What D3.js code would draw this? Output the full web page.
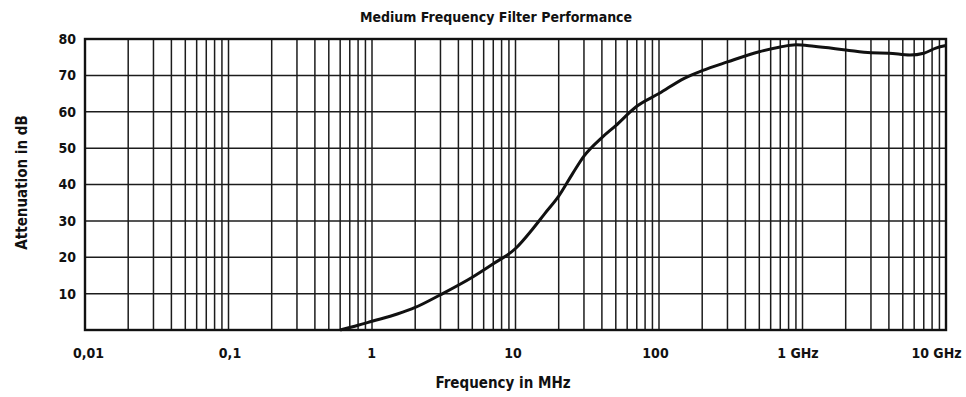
<!DOCTYPE html>
<html>
<head>
<meta charset="utf-8">
<script src="https://cdn.jsdelivr.net/npm/d3@7"></script>
<style>
  body { margin: 0; background: #fff; }
  text { font-family: "Liberation Sans Narrow", "Arial Narrow", "DejaVu Sans Condensed", sans-serif; font-weight: bold; fill: #111; }
</style>
</head>
<body>
<div id="graph-area"></div>
<script>
// frequency in MHz and attenuation in dB
const FREQ = [0.6, 0.8, 1, 1.5, 2, 3, 5, 7, 10, 13, 16, 20, 25, 30, 40, 50, 70, 100, 150, 200, 300, 500, 700, 900, 1200, 2000, 3000, 4000, 5600, 7000, 8500, 10000]
const ATT = [0, 1.3, 2.4, 4.4, 6.2, 9.7, 14.5, 18.2, 22.4, 27.5, 32.0, 36.8, 43.0, 47.8, 52.9, 56.2, 61.5, 65.0, 69.2, 71.3, 73.7, 76.5, 77.8, 78.4, 78.0, 77.0, 76.2, 76.1, 75.6, 76.1, 77.5, 78.2]
const X_DOMAIN = [0.01, 10000]
const Y_DOMAIN = [0, 80]
const X_TICKS = [0.01, 0.1, 1, 10, 100, 1000, 10000]
const X_LABELS = ['0,01', '0,1', '1', '10', '100', '1 GHz', '10 GHz']
const Y_TICKS = [10, 20, 30, 40, 50, 60, 70, 80]

var margin = { top: 39, right: 20, bottom: 67, left: 85 }
var width = 966 - margin.left - margin.right
var height = 397 - margin.top - margin.bottom

var svg = d3.select('#graph-area')
  .append('svg')
  .attr('width', 966)
  .attr('height', 397)

var container = svg.append('g')
  .attr('transform', 'translate(' + margin.left + ',' + margin.top + ')')

var xScale = d3.scaleLog().domain(X_DOMAIN).range([0, width])
var yScale = d3.scaleLinear().domain(Y_DOMAIN).range([height, 0])

// full log grid: 1..9 in every decade
var minor = []
for (let d = -2; d < 4; d++) {
  for (let m = 2; m <= 9; m++) minor.push(m * Math.pow(10, d))
}
var vlines = minor.concat(X_TICKS)

container.append('g')
  .selectAll('line')
  .data(vlines)
  .enter()
  .append('line')
  .attr('x1', d => xScale(d))
  .attr('x2', d => xScale(d))
  .attr('y1', 0)
  .attr('y2', height)
  .attr('stroke', '#1c1c1c')
  .attr('stroke-width', 1.5)

container.append('g')
  .selectAll('line')
  .data(Y_TICKS)
  .enter()
  .append('line')
  .attr('x1', 0)
  .attr('x2', width)
  .attr('y1', d => yScale(d))
  .attr('y2', d => yScale(d))
  .attr('stroke', '#1c1c1c')
  .attr('stroke-width', 1.5)

// frame
container.append('rect')
  .attr('width', width)
  .attr('height', height)
  .attr('fill', 'none')
  .attr('stroke', '#111')
  .attr('stroke-width', 2.4)

// axes (text only)
// the printed labels sit a little left of their grid lines
const LABEL_SHIFT = [3, 1, -1, -3, -4, -5, -10]
var xAxis = container.append('g')
  .attr('transform', 'translate(0,' + height + ')')
  .call(d3.axisBottom(xScale).tickValues(X_TICKS).tickFormat((d, i) => X_LABELS[i]).tickSize(0).tickPadding(18))
xAxis.select('.domain').remove()
xAxis.selectAll('text')
  .style('font-size', '14px')
  .attr('dx', (d, i) => LABEL_SHIFT[i])

var yAxis = container.append('g')
  .call(d3.axisLeft(yScale).tickValues(Y_TICKS).tickSize(0).tickPadding(9))
yAxis.select('.domain').remove()
yAxis.selectAll('text').style('font-size', '14px')

// curve
var line = d3.line()
  .x((d, i) => xScale(FREQ[i]))
  .y(d => yScale(d))
  .curve(d3.curveMonotoneX)

container.append('path')
  .datum(ATT)
  .attr('d', line)
  .attr('fill', 'none')
  .attr('stroke', '#111')
  .attr('stroke-width', 3)

// titles
svg.append('text')
  .attr('x', 496)
  .attr('y', 22)
  .attr('text-anchor', 'middle')
  .style('font-size', '14px')
  .text('Medium Frequency Filter Performance')

svg.append('text')
  .attr('x', 503)
  .attr('y', 388)
  .attr('text-anchor', 'middle')
  .style('font-size', '15px')
  .text('Frequency in MHz')

svg.append('text')
  .attr('transform', 'translate(27,' + (margin.top + height / 2 - 2) + ') rotate(-90)')
  .attr('text-anchor', 'middle')
  .style('font-size', '15px')
  .text('Attenuation in dB')
</script>
</body>
</html>
